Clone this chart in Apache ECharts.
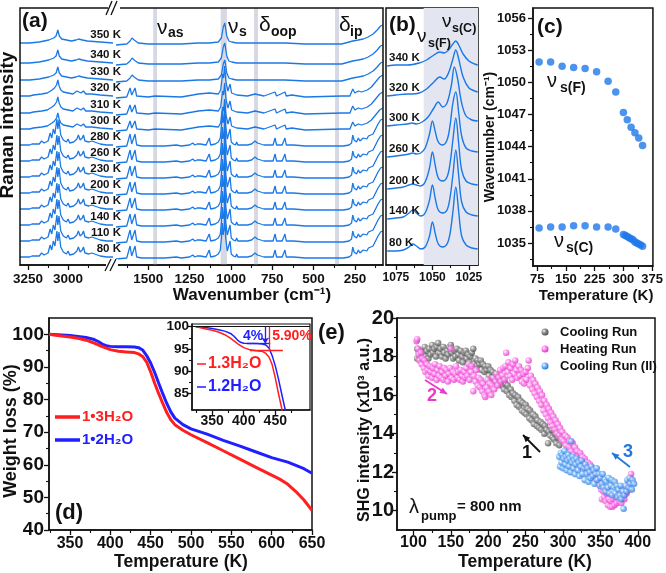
<!DOCTYPE html>
<html><head><meta charset="utf-8">
<script src="https://cdn.jsdelivr.net/npm/echarts@6/dist/echarts.min.js"></script>
<style>html,body{margin:0;padding:0;background:#fff}#c{width:666px;height:573px}</style>
</head><body><div id="c"></div>
<script>
// ---------------- DATA ----------------
// (a) Raman spectra, stacked
const ramanTemps   = [80,110,140,170,200,230,260,280,300,310,320,330,340,350];
const ramanOffsets = [6,22,38,54,70,86,102,118,134,150,167,183,200,220];
const ramanPhase   = ['low','low','low','low','low','low','low','low','mid','mid','mid','high','high','high'];
const ramanLeftLow  = [[3300,2],[3240,2],[3225,3],[3217,5],[3208,3],[3180,3],[3165,6],[3150,4],[3125,6],[3112,14],[3102,9],[3092,18],[3082,13],[3070,28],[3064,18],[3057,27],[3046,12],[3030,7],[3010,5],[3000,8],[2990,4],[2965,5],[2945,8],[2936,12],[2925,7],[2912,9],[2904,12],[2895,6],[2870,5],[2852,6],[2840,4],[2800,3],[2760,2],[2720,2]];
const ramanLeftMid  = [[3300,2],[3240,2],[3217,3],[3165,4],[3130,5],[3100,8],[3085,10],[3072,13],[3064,18],[3056,12],[3045,8],[3030,6],[3000,5],[2970,4],[2945,7],[2936,8],[2920,5],[2904,7],[2890,4],[2852,4],[2800,3],[2720,2]];
const ramanLeftHigh = [[3300,2],[3240,2],[3180,3],[3120,5],[3090,7],[3075,9],[3064,15],[3055,9],[3040,6],[3010,5],[2980,4],[2950,5],[2935,6],[2910,5],[2880,4],[2800,3],[2720,2]];
const ramanRightLow = [[1695,0],[1630,1],[1618,3],[1610,13],[1600,3],[1590,3],[1580,13],[1570,2],[1540,1],[1470,1],[1459,2],[1448,1],[1400,1],[1330,2],[1300,1],[1250,2],[1231,4],[1218,2],[1205,3],[1197,5],[1185,3],[1150,2],[1131,9],[1122,2],[1095,3],[1076,5],[1064,9],[1057,22],[1052,36],[1047,24],[1041,30],[1037,46],[1032,22],[1022,8],[1012,7],[1005,18],[998,5],[985,3],[972,2],[965,5],[958,2],[900,2],[875,3],[854,6],[840,4],[800,2],[745,2],[733,9],[724,2],[690,2],[673,9],[665,2],[640,2],[632,4],[622,2],[550,1],[450,1],[340,1],[330,3],[320,1],[285,2],[270,4],[263,12],[255,7],[240,5],[229,9],[220,6],[210,6],[199,9],[190,7],[178,8],[168,11],[158,9],[140,13],[125,18],[110,23],[95,27],[82,28]];
const ramanRightMid = [[1695,0],[1630,1],[1618,2],[1610,10],[1600,3],[1590,3],[1580,10],[1570,2],[1500,1],[1459,2],[1300,1],[1231,3],[1197,4],[1131,5],[1076,4],[1062,8],[1050,24],[1044,20],[1038,32],[1030,16],[1018,7],[1005,14],[996,5],[965,3],[900,2],[854,4],[800,2],[733,6],[724,2],[673,6],[665,2],[632,3],[550,1],[330,2],[280,2],[263,9],[250,5],[229,7],[210,6],[199,7],[175,8],[150,11],[125,16],[100,21],[82,23]];
const ramanRightHigh = [[1695,0],[1630,1],[1610,4],[1598,7],[1585,5],[1560,2],[1500,1],[1300,1],[1200,2],[1131,2],[1076,3],[1058,7],[1046,18],[1037,22],[1025,9],[1012,4],[1005,6],[995,3],[965,2],[854,2],[733,2],[673,2],[550,1],[330,1],[263,4],[230,5],[199,6],[170,8],[140,11],[115,15],[95,19],[82,20]];
const ramanLeftTicks  = [3250,3000];
const ramanRightTicks = [1500,1250,1000,750,500,250];

// (b) zoom on nu_s region
const bandTemps   = [80,140,200,260,300,320,340];
const bandOffsets = [13,45,75,107,138,168,198];
const band80  = [[1081,1],[1075,1],[1070,2],[1066,5],[1063.5,8],[1061,6],[1058,3],[1055,5],[1052,16],[1050,30],[1048,18],[1046,8],[1043,5],[1040,8],[1038,18],[1036,40],[1034,65],[1032,40],[1030,16],[1027,7],[1023,4],[1019,3]];
const band140 = [[1081,1],[1075,2],[1070,3],[1066,7],[1063.5,10],[1061,7],[1058,4],[1055,7],[1052,20],[1050,35],[1048,21],[1046,10],[1043,7],[1040,10],[1038,22],[1036,45],[1034,70],[1032,44],[1030,18],[1027,8],[1023,5],[1019,4]];
const band200 = [[1081,1],[1075,2],[1070,3],[1066,5],[1063.5,6],[1061,5],[1058,4],[1055,8],[1052,22],[1050,38],[1048,24],[1046,12],[1043,9],[1040,13],[1038,26],[1036,50],[1034,72],[1032,46],[1030,20],[1027,9],[1023,6],[1019,5]];
const band260 = [[1081,1],[1075,2],[1070,3],[1066,4],[1063.5,5],[1061,4],[1058,5],[1055,10],[1052,24],[1050,37],[1048,26],[1046,16],[1043,13],[1040,18],[1038,32],[1036,55],[1034,66],[1032,45],[1030,22],[1027,10],[1023,7],[1019,6]];
const band300 = [[1081,1],[1075,2],[1067,3],[1064,4],[1061,3],[1057,5],[1053,10],[1049,19],[1046,25],[1043,20],[1040,24],[1037,42],[1035,60],[1033,50],[1030,24],[1027,11],[1023,7],[1019,6]];
const band320 = [[1081,1],[1075,2],[1067,3],[1064,3],[1059,4],[1054,8],[1049,15],[1045,20],[1042,18],[1039,24],[1036,38],[1034,47],[1032,38],[1029,20],[1025,9],[1021,6],[1019,5]];
const band340 = [[1081,1],[1075,2],[1067,2],[1059,4],[1054,7],[1049,12],[1045,15],[1042,14],[1039,17],[1036,23],[1034,26],[1032,22],[1029,13],[1025,6],[1021,3],[1019,2]];
const bandSpectra = [band80,band140,band200,band260,band300,band320,band340];

// (c) peak positions
const peakTempsF = [80,110,140,170,200,230,260,280,300,310,320,330,340,350];
const peakFreqF  = [1051.9,1051.9,1051.5,1051.4,1051.3,1051.0,1050.1,1049.1,1047.2,1046.5,1045.8,1045.3,1044.8,1044.1];
const peakTempsC = [80,110,140,170,200,230,260,280,300,305,310,315,320,325,330,335,340,345,350];
const peakFreqC  = [1036.4,1036.5,1036.5,1036.6,1036.6,1036.5,1036.5,1036.3,1035.8,1035.7,1035.6,1035.5,1035.4,1035.3,1035.1,1035.0,1034.9,1034.8,1034.7];

// (d) TGA
const tgaTemp3 = [324,330,340,350,360,370,380,390,400,410,420,430,435,440,445,450,455,460,465,470,475,480,490,500,520,540,560,580,600,610,620,630,640,650];
const tgaW3    = [100,99.8,99.5,99.2,98.8,98.2,97.3,96.2,95.3,94.8,94.6,94.4,94.0,93.2,91.5,88.5,85.0,81.8,78.8,76.0,73.8,72.3,70.6,69.2,66.8,64.3,61.8,59.3,56.8,55.6,54.0,51.8,49.2,46.0];
const tgaTemp2 = [324,340,350,360,370,380,385,390,395,400,410,420,430,435,440,445,450,455,460,465,470,475,480,490,500,520,540,560,580,600,620,640,650];
const tgaW2    = [100,99.8,99.6,99.3,99.0,98.4,97.8,97.0,96.5,96.3,96.2,96.2,96.1,95.9,95.2,93.5,91.2,88.3,85.0,81.8,78.8,76.2,74.3,72.3,71.0,69.4,67.5,65.8,64.0,62.2,60.8,58.8,57.4];
const lossPlateau3 = 94.6, lossPlateau2 = 96.2;

// (e) SHG intensity (x10^3 a.u.)
const coolingRun = [[105,18.4],[105,17.9],[107,18.2],[108,18.0],[110,18.3],[111,17.9],[113,18.1],[115,18.5],[116,18.0],[118,18.3],[120,17.9],[121,18.4],[123,18.1],[125,18.6],[126,18.2],[128,18.4],[130,18.0],[131,18.5],[133,18.7],[135,18.2],[136,18.4],[138,18.0],[140,18.5],[141,18.2],[143,17.9],[145,18.3],[146,18.1],[148,18.5],[150,18.6],[151,18.2],[153,17.9],[155,18.3],[156,18.0],[158,18.4],[160,18.1],[161,17.8],[163,18.3],[165,18.0],[166,17.7],[168,18.2],[170,18.3],[171,17.9],[173,18.1],[175,17.7],[176,18.0],[178,18.2],[180,18.4],[181,17.6],[183,17.9],[185,17.5],[186,17.8],[188,17.6],[190,17.8],[191,17.3],[193,17.6],[195,17.2],[196,17.5],[198,17.3],[200,17.5],[201,17.0],[203,17.3],[205,16.9],[206,17.2],[208,16.8],[210,17.1],[211,16.7],[213,16.9],[215,16.6],[216,16.9],[218,16.5],[220,16.8],[221,16.3],[223,16.6],[225,16.2],[226,16.5],[228,16.0],[230,16.3],[231,15.9],[233,16.1],[235,15.7],[236,16.0],[238,15.5],[240,15.9],[241,15.4],[243,15.7],[245,15.2],[246,15.6],[248,15.1],[250,15.5],[251,15.0],[253,15.3],[255,14.8],[256,15.2],[258,14.7],[260,15.0],[261,14.5],[263,14.9],[265,14.4],[266,14.7],[268,14.3],[270,14.6],[271,14.2],[273,14.5],[275,14.0],[276,14.4],[278,14.2],[280,13.5],[281,14.1],[283,13.9],[285,14.2],[286,13.8],[288,13.7],[290,14.0],[291,13.5],[293,13.8],[295,13.4]];
const heatingRun = [[104,18.8],[105,18.9],[106,18.4],[107,18.1],[108,17.8],[110,18.2],[111,17.6],[112,17.9],[114,17.4],[115,17.8],[116,17.2],[118,17.6],[119,17.3],[120,17.0],[122,17.5],[123,17.2],[125,16.9],[126,17.4],[128,17.1],[129,17.6],[131,16.8],[132,17.3],[134,17.0],[135,17.5],[137,16.9],[138,17.2],[140,16.8],[141,17.4],[143,17.0],[144,17.3],[146,16.7],[147,17.1],[149,17.4],[150,18.4],[151,16.9],[153,17.2],[154,16.8],[156,17.1],[157,17.5],[159,16.9],[160,17.2],[162,16.8],[163,17.3],[165,17.0],[166,16.7],[168,17.2],[169,16.9],[171,17.4],[172,17.0],[174,17.6],[175,16.8],[177,17.2],[178,17.5],[180,16.2],[181,17.0],[183,16.7],[184,17.3],[186,16.5],[187,16.9],[189,16.4],[190,16.8],[192,16.2],[193,16.6],[195,16.0],[196,15.9],[198,16.4],[199,16.8],[201,16.2],[202,16.6],[204,16.0],[205,16.5],[207,16.9],[208,16.3],[210,16.7],[211,17.1],[213,16.5],[214,16.9],[216,17.3],[217,16.7],[219,17.0],[220,17.4],[222,16.8],[223,17.5],[224,18.2],[226,17.2],[227,17.7],[229,17.0],[230,17.4],[232,16.8],[233,17.6],[235,17.1],[236,17.8],[238,17.3],[239,16.9],[241,17.5],[242,17.0],[244,17.3],[245,16.7],[247,17.1],[248,16.6],[250,17.2],[251,16.8],[253,17.4],[254,17.8],[256,16.5],[257,17.0],[259,16.3],[260,16.8],[262,16.1],[263,16.6],[265,15.9],[266,16.4],[268,15.7],[269,16.2],[271,15.5],[272,16.0],[274,15.2],[275,15.7],[277,15.0],[278,15.5],[280,14.8],[281,15.3],[283,14.6],[284,15.1],[286,14.4],[287,14.9],[289,14.2],[290,14.7],[292,14.0],[293,14.5],[295,13.9],[296,14.3],[298,13.7],[299,14.1],[301,13.6],[303,13.9],[304,13.4],[306,13.8],[308,13.3],[309,13.6],[311,13.1],[313,13.5],[314,12.9],[316,13.3],[318,12.8],[319,13.1],[321,12.6],[323,13.0],[324,12.5],[326,12.8],[328,12.3],[329,12.7],[331,12.2],[333,12.5],[334,12.0],[336,12.4],[338,11.9],[339,12.2],[341,11.8],[343,12.0],[344,11.6],[346,11.9],[348,11.4],[349,11.7],[351,11.1],[352,10.6],[354,11.0],[355,10.7],[357,10.5],[358,10.9],[360,10.3],[361,10.6],[363,10.2],[364,10.5],[366,10.2],[367,10.6],[369,10.3],[370,10.7],[372,10.4],[373,10.8],[375,10.5],[376,10.9],[378,10.4],[379,10.8],[381,11.0],[382,10.6],[384,11.2],[385,10.9],[387,11.4],[388,11.1],[390,11.7],[391,11.9]];
const coolingRun2 = [[295,12.8],[296,12.3],[297,13.0],[298,12.5],[299,12.9],[300,12.2],[301,12.7],[302,13.1],[303,12.4],[304,12.8],[305,12.1],[306,12.6],[307,12.9],[308,12.3],[309,12.7],[310,12.0],[311,13.6],[312,12.5],[313,12.8],[314,12.2],[315,12.6],[316,11.9],[317,12.4],[318,12.7],[320,12.1],[321,12.5],[322,11.8],[324,12.3],[325,12.6],[326,11.9],[328,12.2],[329,11.6],[330,12.4],[332,11.9],[333,12.2],[334,11.5],[336,12.0],[337,11.7],[338,12.3],[340,11.8],[341,12.1],[342,11.4],[344,11.9],[345,12.2],[346,11.6],[348,11.9],[349,11.3],[350,11.7],[352,11.4],[353,11.9],[354,11.2],[356,11.6],[357,11.0],[358,11.5],[360,11.2],[361,11.7],[362,10.9],[364,11.3],[365,11.6],[366,10.8],[368,11.2],[369,11.5],[370,10.9],[372,11.3],[373,10.7],[374,11.1],[376,10.8],[377,11.3],[378,10.6],[380,11.0],[381,10.1],[382,10.8],[384,11.3],[385,11.0],[386,11.6],[388,11.2],[389,11.7],[390,11.4],[392,11.1],[393,11.6],[395,11.4]];

// ---------------- CHART ----------------
const FF = "'Liberation Sans', Arial, sans-serif";
const AX = '#111';
const SPEC = '#1b78e6';
const RED = '#ff1f1f', BLUE = '#1f1fff';
const xAxes = [], yAxes = [];
const fmt = v => String(v);

function addAxis(list, dim, grid, min, max, majors, minors, o) {
  o = o || {};
  const pos = dim === 'x' ? 'bottom' : 'left';
  const base = {type:'value', gridIndex:grid, min, max, inverse:!!o.inverse, position:pos, splitLine:{show:false}, show: o.hidden ? false : true};
  list.push(Object.assign({}, base, {
    axisLine:{show:true, onZero:false, lineStyle:{color:AX, width:1.5}},
    axisTick:{show:!!majors, inside:false, length:5, customValues:majors || [], lineStyle:{color:AX, width:1.3}},
    axisLabel:{show:!!majors, customValues:majors || [], formatter:fmt, fontSize:o.fs||13, fontWeight:'bold', color:AX, fontFamily:FF, margin:o.margin||6}
  }));
  const idx = list.length - 1;
  if (minors && !o.hidden) {
    list.push(Object.assign({}, base, {
      axisLine:{show:false},
      axisTick:{show:true, inside:false, length:3, customValues:minors, lineStyle:{color:AX, width:1.1}},
      axisLabel:{show:false}
    }));
  }
  return idx;
}

const grids = [
  {left:20, top:8, width:93, height:257},      // 0 a-left
  {left:116, top:8, width:267, height:257},    // 1 a-right
  {left:386, top:8, width:92, height:257, show:true, borderColor:AX, borderWidth:1.5},   // 2 b
  {left:533, top:8, width:124, height:258, show:true, borderColor:AX, borderWidth:1.5},  // 3 c
  {left:49, top:318, width:263, height:212, show:true, borderColor:AX, borderWidth:1.5}, // 4 d
  {left:192, top:324, width:118, height:86, show:true, borderColor:AX, borderWidth:1.2, backgroundColor:'#fff'}, // 5 inset
  {left:397, top:318, width:258, height:212, show:true, borderColor:AX, borderWidth:1.5} // 6 e
];

const xa0 = addAxis(xAxes,'x',0,2720,3300,ramanLeftTicks,[3125,2875],{inverse:true,fs:13.5,margin:7});
const xa1 = addAxis(xAxes,'x',1,80,1695,ramanRightTicks,[1625,1375,1125,875,625,375,125],{inverse:true,fs:13.5,margin:7});
const xb  = addAxis(xAxes,'x',2,1018.8,1081.8,[1075,1050,1025],[1062.5,1037.5],{inverse:true,fs:12,margin:7});
const xc  = addAxis(xAxes,'x',3,64,377,[75,150,225,300,375],[112.5,187.5,262.5,337.5],{fs:13,margin:7});
const xd  = addAxis(xAxes,'x',4,324,650,[350,400,450,500,550,600,650],[325,375,425,475,525,575,625],{fs:16,margin:6});
const xi  = addAxis(xAxes,'x',5,318,505,[350,400,450],[325,375,425,475],{fs:14,margin:4});
const xe  = addAxis(xAxes,'x',6,78,423,[100,150,200,250,300,350,400],[125,175,225,275,325,375],{fs:16,margin:5});

const ya0 = addAxis(yAxes,'y',0,0,257,null,null,{hidden:true});
const ya1 = addAxis(yAxes,'y',1,0,257,null,null,{hidden:true});
const yb  = addAxis(yAxes,'y',2,0,257,null,null,{hidden:true});
const yc  = addAxis(yAxes,'y',3,1032.85,1056.95,[1035,1038,1041,1044,1047,1050,1053,1056],[1033.5,1036.5,1039.5,1042.5,1045.5,1048.5,1051.5,1054.5],{fs:13,margin:7});
const yd  = addAxis(yAxes,'y',4,40,105,[40,50,60,70,80,90,100],[45,55,65,75,85,95],{fs:19,margin:5});
const yi  = addAxis(yAxes,'y',5,81.3,100.6,[85,90,95,100],[87.5,92.5,97.5],{fs:13.5,margin:3});
const ye  = addAxis(yAxes,'y',6,9,20,[10,12,14,16,18,20],[11,13,15,17,19],{fs:20,margin:3});

const series = [];
const archL = {low:ramanLeftLow, mid:ramanLeftMid, high:ramanLeftHigh};
const archR = {low:ramanRightLow, mid:ramanRightMid, high:ramanRightHigh};
const lineBase = {type:'line', showSymbol:false, silent:true, animation:false};

ramanTemps.forEach((t,i) => {
  const off = ramanOffsets[i], ph = ramanPhase[i];
  series.push(Object.assign({}, lineBase, {xAxisIndex:xa0, yAxisIndex:ya0, lineStyle:{color:SPEC, width:1.3},
    data: archL[ph].map(p => [p[0], p[1] + off])}));
  const s = Object.assign({}, lineBase, {xAxisIndex:xa1, yAxisIndex:ya1, lineStyle:{color:SPEC, width:1.3},
    data: archR[ph].map(p => [p[0], p[1] + off])});
  if (i === 0) s.markArea = {silent:true, itemStyle:{color:'#d6d9e4'}, data:[
    [{xAxis:1470},{xAxis:1447}], [{xAxis:1062},{xAxis:1024}], [{xAxis:860},{xAxis:836}], [{xAxis:370},{xAxis:346}] ]};
  series.push(s);
});

bandTemps.forEach((t,i) => {
  const off = bandOffsets[i];
  const s = Object.assign({}, lineBase, {xAxisIndex:xb, yAxisIndex:yb, smooth:0.35, lineStyle:{color:SPEC, width:1.4},
    data: bandSpectra[i].map(p => [p[0], p[1] + off])});
  if (i === 0) s.markArea = {silent:true, itemStyle:{color:'#e3e6f0'}, data:[[{xAxis:1056},{xAxis:1018.8}]]};
  series.push(s);
});

series.push({type:'scatter', xAxisIndex:xc, yAxisIndex:yc, symbolSize:7.5, itemStyle:{color:'#1f78e8'}, silent:true, animation:false,
  data: peakTempsF.map((t,i) => [t, peakFreqF[i]])});
series.push({type:'scatter', xAxisIndex:xc, yAxisIndex:yc, symbolSize:7.5, itemStyle:{color:'#1f78e8'}, silent:true, animation:false,
  data: peakTempsC.map((t,i) => [t, peakFreqC[i]])});

const d3 = tgaTemp3.map((t,i) => [t, tgaW3[i]]);
const d2 = tgaTemp2.map((t,i) => [t, tgaW2[i]]);
series.push(Object.assign({}, lineBase, {xAxisIndex:xd, yAxisIndex:yd, lineStyle:{color:BLUE, width:3}, data:d2}));
series.push(Object.assign({}, lineBase, {xAxisIndex:xd, yAxisIndex:yd, lineStyle:{color:RED, width:3}, data:d3}));
series.push(Object.assign({}, lineBase, {xAxisIndex:xi, yAxisIndex:yi, lineStyle:{color:BLUE, width:1.5}, data:d2,
  markLine:{silent:true, symbol:['none','none'], label:{show:false}, animation:false, data:[
    [{coord:[318,100], lineStyle:{color:'#111', width:1, type:'solid'}},{coord:[505,100]}],
    [{coord:[434,100], symbol:'none', lineStyle:{color:BLUE, width:1.3, type:'solid'}},{coord:[434,lossPlateau2], symbol:'arrow', symbolSize:6}],
    [{coord:[405,lossPlateau2], lineStyle:{color:BLUE, width:1.3, type:'solid'}},{coord:[442,lossPlateau2]}]
  ]}}));
series.push(Object.assign({}, lineBase, {xAxisIndex:xi, yAxisIndex:yi, lineStyle:{color:RED, width:1.5}, data:d3,
  markLine:{silent:true, symbol:['none','none'], label:{show:false}, animation:false, data:[
    [{coord:[440,100], lineStyle:{color:RED, width:1.3, type:'solid'}},{coord:[440,lossPlateau3]}],
    [{coord:[410,lossPlateau3], lineStyle:{color:RED, width:1.3, type:'solid'}},{coord:[462,lossPlateau3]}]
  ]}}));

function ball(light, dark) {
  return new echarts.graphic.RadialGradient(0.35, 0.35, 0.75, [{offset:0,color:'#ffffff'},{offset:0.3,color:light},{offset:1,color:dark}]);
}
const GRAY = ball('#a0a0a0','#3a3a3a'), MAG = ball('#ff9af0','#e020c4'), BLU = ball('#8cc6ff','#1a66d0');
series.push({type:'scatter', xAxisIndex:xe, yAxisIndex:ye, symbolSize:6.5, itemStyle:{color:GRAY}, silent:true, animation:false, data:coolingRun});
series.push({type:'scatter', xAxisIndex:xe, yAxisIndex:ye, symbolSize:6.5, itemStyle:{color:MAG}, silent:true, animation:false, data:heatingRun});
series.push({type:'scatter', xAxisIndex:xe, yAxisIndex:ye, symbolSize:6.5, itemStyle:{color:BLU}, silent:true, animation:false, data:coolingRun2});

// ---------------- GRAPHIC (text / annotations) ----------------
function T(x, y, text, o) {
  o = o || {};
  return {type:'text', x, y, rotation:o.rot||0, z:100, silent:true,
    style:{text, fill:o.color||'#111', font:(o.weight||'bold') + ' ' + (o.size||13) + 'px ' + FF,
      textAlign:o.align||'left', textVerticalAlign:o.va||'middle'}};
}
function L(x1,y1,x2,y2,color,w) { return {type:'line', z:100, silent:true, shape:{x1,y1,x2,y2}, style:{stroke:color, lineWidth:w||1.5}}; }
function R(x,y,w,h,fill,stroke,lw,z) { return {type:'rect', z:z||90, silent:true, shape:{x,y,width:w,height:h}, style:{fill:fill, stroke:stroke||null, lineWidth:lw||0}}; }
function arrow(x1,y1,x2,y2,color) {
  const a = Math.atan2(y2-y1, x2-x1), h = 7, s = 3.2;
  const pts = [[x2,y2],[x2-h*Math.cos(a)+s*Math.sin(a), y2-h*Math.sin(a)-s*Math.cos(a)],[x2-h*Math.cos(a)-s*Math.sin(a), y2-h*Math.sin(a)+s*Math.cos(a)]];
  return [L(x1,y1,x2,y2,color,1.8), {type:'polygon', z:100, silent:true, shape:{points:pts}, style:{fill:color}}];
}
const V = Math.PI/2;
const g = [];
// panel a frame + break
g.push(R(20,8,363,257,'none',AX,1.5,80));
g.push(R(108,2,12,12,'#fff',null,0,95), R(106,259,12,12,'#fff',null,0,95));
g.push(L(106,15,112,1,AX,1.3), L(111,15,117,1,AX,1.3), L(105,271,111,259,AX,1.3), L(110,271,116,259,AX,1.3));
g.push(T(22,21,'(a)',{size:21}));
g.push(T(157,28,'ν',{size:21,weight:'normal'}), T(168,33,'as',{size:14}));
g.push(T(228,27,'ν',{size:21,weight:'normal'}), T(239,32,'s',{size:14}));
g.push(T(259,25,'δ',{size:21,weight:'normal'}), T(271,32,'oop',{size:14}));
g.push(T(339,25,'δ',{size:21,weight:'normal'}), T(350,32,'ip',{size:14}));
ramanTemps.forEach((t,i) => g.push(T(121, 265 - ramanOffsets[i] - 10, t + ' K', {size:11.5, align:'right'})));
g.push(T(8,125,'Raman intensity',{size:19, rot:V, align:'center'}));
g.push(T(252,295,'Wavenumber (cm⁻¹)',{size:17, align:'center'}));
// panel b
g.push(T(389,25,'(b)',{size:21}));
g.push(T(417,37,'ν',{size:19,weight:'normal'}), T(428,44,'s(F)',{size:12.5}));
g.push(T(442,22,'ν',{size:19,weight:'normal'}), T(452,29,'s(C)',{size:12.5}));
bandTemps.forEach((t,i) => g.push(T(389, 265 - bandOffsets[i] - 9, t + ' K', {size:11.5})));
// panel c
g.push(T(537,27,'(c)',{size:21}));
g.push(T(547,81,'ν',{size:20,weight:'normal'}), T(560,88,'s(F)',{size:14}));
g.push(T(554,241,'ν',{size:20,weight:'normal'}), T(566,248,'s(C)',{size:14}));
g.push(T(490,137,'Wavenumber (cm⁻¹)',{size:14, rot:V, align:'center'}));
g.push(T(596,296,'Temperature (K)',{size:15, align:'center'}));
// panel d
g.push(T(55,513,'(d)',{size:22}));
g.push(T(11,431,'Weight loss (%)',{size:18, rot:V, align:'center'}));
g.push(T(181,562,'Temperature (K)',{size:17.5, align:'center'}));
g.push(L(55,417,80,417,RED,3.5), T(82,417,'1•3H₂O',{size:15,color:RED}));
g.push(L(55,440,80,440,BLUE,3.5), T(82,440,'1•2H₂O',{size:15,color:BLUE}));
g.push(T(253,336,'4%',{size:14,color:BLUE,align:'center'}), T(292,336,'5.90%',{size:14,color:RED,align:'center'}));
g.push(L(197,364,206,364,RED,1.5), T(208,364,'1.3H₂O',{size:16,color:RED}));
g.push(L(197,387,206,387,BLUE,1.5), T(208,387,'1.2H₂O',{size:16,color:BLUE}));
// panel e
g.push(T(318,333,'(e)',{size:22}));
g.push(T(365,430,'SHG intensity (x10³ a.u.)',{size:16, rot:V, align:'center'}));
g.push(T(525,562,'Temperature (K)',{size:17.5, align:'center'}));
[[332,GRAY,'Cooling Run'],[349,MAG,'Heating Run'],[366,BLU,'Cooling Run (II)']].forEach(r => {
  g.push({type:'circle', z:100, silent:true, shape:{cx:545, cy:r[0], r:3.5}, style:{fill:r[1]}});
  g.push(T(560, r[0], r[2], {size:13}));
});
g.push(T(409,507,'λ',{size:20,weight:'normal'}), T(421,516,'pump',{size:13}), T(457,507,'= 800 nm',{size:15}));
g.push(...arrow(425,380,447,394,'#e83cc8'), T(432,396,'2',{size:18,color:'#e83cc8',align:'center'}));
g.push(...arrow(540,452,523,435,'#111'), T(527,453,'1',{size:18,align:'center'}));
g.push(...arrow(630,467,612,453,'#2277e0'), T(628,452,'3',{size:18,color:'#2277e0',align:'center'}));

const chart = echarts.init(document.getElementById('c'), null, {renderer:'canvas'});
chart.setOption({animation:false, backgroundColor:'#fff', grid:grids, xAxis:xAxes, yAxis:yAxes, series, graphic:{elements:g}});
</script>
</body></html>
